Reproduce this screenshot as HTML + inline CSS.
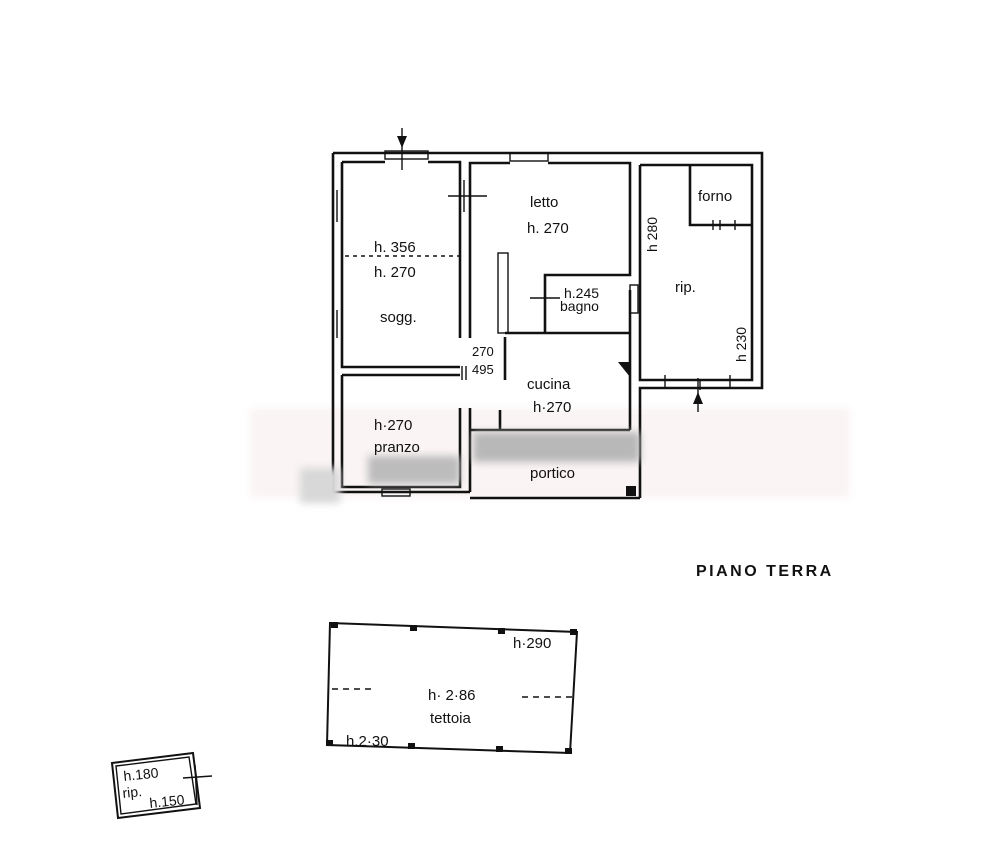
<!DOCTYPE html>
<html><head><meta charset="utf-8"><style>
html,body{margin:0;padding:0;background:#fff;}
svg{display:block}
text{font-family:"Liberation Sans",sans-serif;fill:#111;}
</style></head><body>
<svg width="1000" height="854" viewBox="0 0 1000 854" xmlns="http://www.w3.org/2000/svg">
<defs><filter id="b" x="-20%" y="-50%" width="140%" height="200%"><feGaussianBlur stdDeviation="4"/></filter></defs>
<rect x="250" y="408" width="600" height="90" fill="#faf4f4" filter="url(#b)"/>
<g stroke="#111" fill="none" stroke-width="2.6">
<polyline points="333,153 762,153 762,388 640,388 640,498"/>
<polyline points="333,153 333,492 470,492"/>
<line x1="470" y1="498" x2="640" y2="498"/>
<polyline points="342,162 385,162"/><polyline points="428,162 460,162 460,338"/>
<polyline points="342,162 342,367 460,367"/>
<polyline points="470,338 470,163 510,163"/><polyline points="548,163 630,163 630,275 545,275 545,333"/>
<line x1="505" y1="333" x2="630" y2="333"/>
<line x1="505" y1="337" x2="505" y2="380"/>
<line x1="630" y1="290" x2="630" y2="430"/>
<polyline points="640,165 640,380 752,380 752,165 640,165"/>
<polyline points="690,165 690,225 752,225"/>
<polyline points="342,375 460,375"/><polyline points="342,375 342,487 460,487 460,408"/>
<polyline points="470,408 470,492"/>
<line x1="470" y1="430" x2="630" y2="430"/>
<line x1="500" y1="410" x2="500" y2="430"/>
</g>
<g stroke="#111" stroke-width="1.4" fill="none">
<line x1="337" y1="190" x2="337" y2="222"/><line x1="337" y1="310" x2="337" y2="338"/>
<rect x="385" y="151" width="43" height="8"/><rect x="510" y="153" width="38" height="8"/>
<rect x="382" y="489" width="28" height="7"/><rect x="630" y="285" width="8" height="28"/>
<line x1="448" y1="196" x2="487" y2="196"/><line x1="464" y1="180" x2="464" y2="212"/>
<line x1="530" y1="298" x2="560" y2="298"/>
<line x1="462" y1="366" x2="462" y2="380"/><line x1="466" y1="366" x2="466" y2="380"/>
<line x1="700" y1="380" x2="700" y2="390"/><line x1="665" y1="375" x2="665" y2="388"/><line x1="730" y1="375" x2="730" y2="388"/>
<line x1="713" y1="220" x2="713" y2="230"/><line x1="720" y1="220" x2="720" y2="230"/><line x1="735" y1="220" x2="735" y2="230"/>
<rect x="498" y="253" width="10" height="80"/>
<line x1="345" y1="256" x2="460" y2="256" stroke-dasharray="4,4"/>
<polygon points="330,623 577,632 570,753 327,745" stroke-width="2"/>
<line x1="332" y1="689" x2="375" y2="689" stroke-dasharray="6,5"/>
<line x1="522" y1="697" x2="572" y2="697" stroke-dasharray="6,5"/>
<polygon points="112,763 193,753 200,808 118,818" stroke-width="2"/>
<polygon points="116,766 189,757 196,804 121,814"/>
<line x1="183" y1="778" x2="212" y2="776"/><line x1="195" y1="765" x2="197" y2="805"/>
<line x1="402" y1="128" x2="402" y2="170"/><line x1="698" y1="378" x2="698" y2="412"/>
</g>
<polygon points="397,136 407,136 402,148" fill="#111"/>
<polygon points="693,404 703,404 698,392" fill="#111"/>
<polygon points="618,362 630,362 630,377" fill="#111"/>
<rect x="626" y="486" width="10" height="10" fill="#111"/>
<g fill="#111">
<rect x="331" y="622" width="7" height="6"/><rect x="410" y="625" width="7" height="6"/><rect x="498" y="628" width="7" height="6"/><rect x="570" y="629" width="7" height="6"/>
<rect x="326" y="740" width="7" height="6"/><rect x="408" y="743" width="7" height="6"/><rect x="496" y="746" width="7" height="6"/><rect x="565" y="748" width="7" height="6"/>
</g>
<rect x="473" y="432" width="167" height="30" fill="#b8b8b8" filter="url(#b)"/>
<rect x="368" y="456" width="92" height="28" fill="#bcbcbc" filter="url(#b)"/>
<rect x="300" y="468" width="40" height="35" fill="#d8d8d8" filter="url(#b)"/>
<g font-size="15">
<text x="530" y="207">letto</text><text x="527" y="233">h. 270</text>
<text x="374" y="252">h. 356</text><text x="374" y="277">h. 270</text>
<text x="380" y="322">sogg.</text>
<text x="472" y="356" font-size="13">270</text><text x="472" y="374" font-size="13">495</text>
<text x="527" y="389">cucina</text><text x="533" y="412">h·270</text>
<text x="374" y="430">h·270</text><text x="374" y="452">pranzo</text>
<text x="530" y="478">portico</text>
<text x="698" y="201">forno</text><text x="675" y="292">rip.</text>
<text x="564" y="298" font-size="14">h.245</text><text x="560" y="311" font-size="14">bagno</text>
<text transform="translate(657,252) rotate(-90)" font-size="14">h 280</text>
<text transform="translate(746,362) rotate(-90)" font-size="14">h 230</text>
<text x="513" y="648">h·290</text><text x="428" y="700">h· 2·86</text><text x="430" y="723">tettoia</text>
<text x="346" y="746">h.2·30</text>
<text x="124" y="781" font-size="14" transform="rotate(-6 124 781)">h.180</text>
<text x="123" y="798" font-size="14" transform="rotate(-6 123 798)">rip.</text>
<text x="150" y="808" font-size="14" transform="rotate(-6 150 808)">h.150</text>
<text x="696" y="576" font-size="16" font-weight="bold" letter-spacing="2.5">PIANO TERRA</text>
</g>
</svg>
</body></html>
